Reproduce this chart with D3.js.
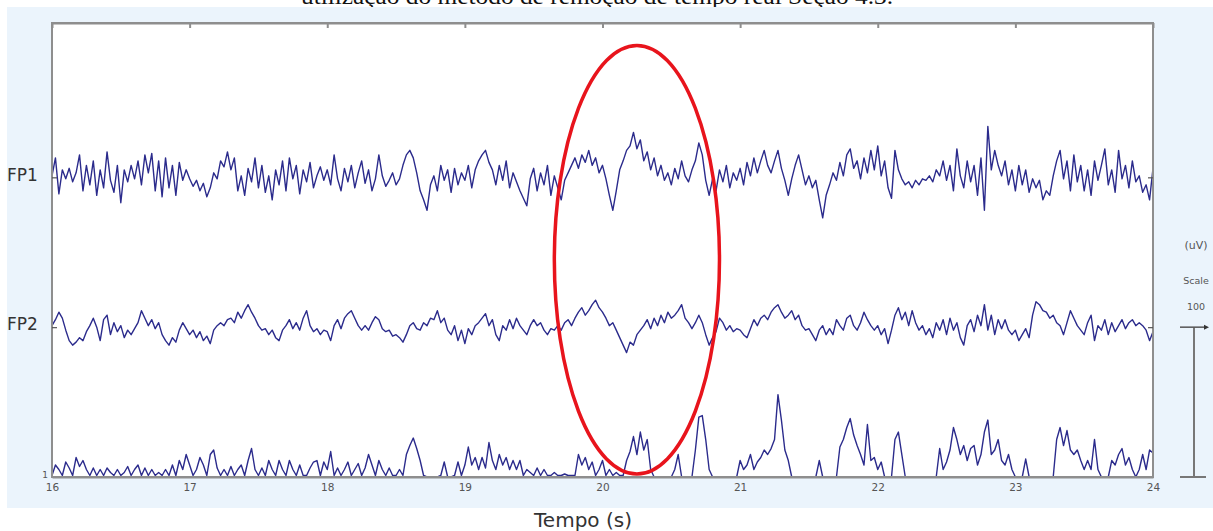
<!DOCTYPE html>
<html>
<head>
<meta charset="utf-8">
<script src="https://cdn.jsdelivr.net/npm/d3@7"></script>
<style>
  body { margin: 0; background: #fff; }
  svg { display: block; }
</style>
</head>
<body>
<svg id="chart" width="1213" height="531"></svg>
<script>
// ---- Data: EEG samples (µV) at 40 Hz from 16 s to 24 s ----
const sampleRate = 40;
const startTime = 16;
const timeTicks = [16, 17, 18, 19, 20, 21, 22, 23, 24];

const fp1 = [
  1, 13, -11, 5, -1, 6, -3, 3, 15, -9, 8, -5, 11, -12, 5, -7, 17, -2, -10, 8,
  -17, 5, -3, 8, -1, 11, -5, 15, 3, 16, -9, 11, -13, 13, -7, 8, -12, 10, -2, 5,
  -1, -6, -2, -9, -4, -13, -7, 3, -1, 11, 7, 17, 5, 13, -9, 1, -12, 6, -3, 13,
  -7, 8, -10, 1, -15, 5, -5, 11, -9, 13, -1, 8, -11, 5, -3, 10, -7, 1, 7, -2,
  5, -5, 15, -1, -9, 6, -3, 8, -7, 3, 11, -4, 5, -9, -1, 15, 1, -6, -2, 3,
  -5, -1, 8, 15, 18, 13, 3, -9, -15, -22, -5, 1, -9, 8, -2, 5, -10, 6, -5, 3,
  -2, 8, -7, 5, 11, 15, 18, 10, 5, -5, 8, -2, 11, -7, 3, -3, -9, -14, -19, -1,
  6, -9, 3, -5, 8, -12, 1, -7, -15, -2, 3, 8, 13, 6, 15, 10, 18, 8, 13, 3,
  8, -1, -12, -22, -9, 5, 11, 18, 21, 30, 19, 25, 11, 17, 5, 13, 1, 8, -2, 3,
  -5, 6, -1, 11, 1, -3, 5, 11, 23, 15, -2, -12, -1, -9, 5, -3, 8, -7, 3, -2,
  6, -5, 10, 1, 13, 3, 11, 18, 8, 3, 11, 18, 6, -2, -12, -1, 8, 15, 5, -5,
  1, -7, -2, -15, -27, -12, -5, 3, -2, 10, 1, 15, 19, 6, 11, -1, 13, 3, 18, 5,
  21, 1, 11, -7, -14, 18, 5, -1, -5, -3, -7, -2, -5, -1, -2, 1, -3, 5, 1, 11,
  -2, 8, -9, 19, 1, -7, 11, -3, 8, -12, 13, -22, 34, 5, 18, 8, 1, 11, -5, 5,
  -9, 8, -5, 5, -10, -1, -7, -2, -15, -9, -12, 1, 11, 18, -1, 11, -9, 15, -3, 8,
  -9, 5, -12, 11, -2, 8, 19, -5, 5, -10, 18, -1, 8, -7, 11, -3, 1, -10, -5, -15, 6
];

const fp2 = [
  1, 5, 10, 6, -2, -9, -12, -10, -7, -9, -3, 1, 6, 0, -9, 5, 8, -5, 3, -3,
  1, -7, -2, -5, -1, 3, 11, 6, 1, 5, -1, 3, -5, -9, -12, -7, -10, -2, 3, -1,
  -5, -2, -7, -3, -9, -6, -11, -2, 1, 3, 1, 5, 6, 3, 10, 6, 11, 15, 10, 6,
  1, -2, -1, -5, -2, -7, -9, -2, 1, 5, -1, 3, -2, 6, 11, 1, -3, -1, -5, -2,
  -3, -9, 1, 5, -1, 6, 9, 11, 6, 1, -2, 1, -2, 3, 7, 5, -1, -3, -2, -6,
  -5, -7, -10, -5, 1, 3, -1, -2, 3, 1, 6, 5, 11, 3, 6, -2, -5, 1, -9, -2,
  -11, -1, -5, 1, 3, 6, 9, 1, 5, -5, -9, 1, -2, 5, -1, 6, 1, -2, -5, 1,
  5, 1, 3, -2, -5, -1, -2, 1, -2, 3, 5, 1, 6, 10, 13, 8, 11, 15, 18, 13,
  10, 6, 1, 3, -2, -7, -12, -17, -10, -12, -5, -2, 1, 5, -1, 6, 1, 8, 3, 10,
  6, 8, 11, 15, 6, 3, -1, 3, 8, 3, -5, -12, -7, -3, 6, 3, -2, 1, -3, -1,
  -2, -5, -7, -1, 5, 1, 6, 8, 5, 10, 13, 15, 10, 6, 8, 11, 5, 8, 1, -2,
  -1, -5, -9, -2, 1, -5, -1, -5, 5, 1, -2, 6, 8, 1, -2, 3, 10, 5, 1, -2,
  1, -5, -1, -11, -2, 8, 13, 5, 10, 1, 11, 3, -2, 1, -5, -1, -7, 3, -2, 5,
  -5, 6, -2, 3, -7, -12, 1, 5, -3, 8, 1, 15, -2, 8, -5, 5, -1, 5, -2, -5,
  -2, -9, -5, -1, -7, 8, 17, 15, 11, 10, 6, 8, 3, 1, -5, 3, 11, 6, 1, -2,
  -5, 3, 8, -9, 1, -2, 5, -5, 3, -3, 1, 5, -1, 3, 5, 1, 3, 1, -2, -9, -3
];

// Artifact-detection trace (non-negative), shown along the time axis
const detection = [
  1, 8, 5, 1, 10, 6, 1, 13, 7, 11, 5, 1, 6, 1, 5, 1, 6, 3, 1, 5,
  1, 3, 7, 1, 5, 8, 1, 6, 1, 5, 1, 3, 1, 5, 1, 8, 1, 11, 5, 15,
  8, 1, 5, 13, 8, 1, 15, 18, 6, 1, 5, 1, 7, 1, 5, 8, 1, 11, 19, 5,
  1, 6, 1, 11, 5, 1, 11, 5, 1, 11, 5, 1, 8, 1, 1, 6, 10, 11, 1, 10,
  5, 17, 1, 6, 1, 5, 10, 1, 5, 9, 1, 6, 15, 8, 1, 11, 5, 1, 6, 1,
  1, 5, 1, 15, 21, 26, 19, 11, 1, 0, 0, 0, 0, 1, 10, 0, 0, 1, 10, 1,
  8, 20, 8, 13, 5, 13, 6, 23, 11, 5, 15, 8, 13, 5, 11, 5, 11, 1, 5, 3,
  1, 6, 1, 5, 1, 1, 3, 1, 1, 2, 1, 1, 1, 15, 8, 13, 5, 10, 1, 5,
  11, 1, 5, 1, 3, 1, 1, 11, 17, 27, 15, 30, 18, 25, 5, 0, 0, 0, 0, 0,
  0, 5, 15, 0, 0, 0, 0, 18, 40, 41, 25, 5, 0, 0, 0, 0, 0, 0, 0, 0,
  11, 5, 8, 15, 5, 10, 13, 18, 15, 19, 25, 55, 38, 18, 11, 0, 0, 0, 0, 0,
  0, 0, 0, 11, 0, 0, 0, 0, 0, 20, 25, 33, 39, 28, 21, 15, 8, 35, 11, 13,
  5, 10, 0, 0, 0, 25, 30, 15, 0, 0, 0, 0, 0, 0, 0, 0, 0, 0, 19, 5,
  10, 18, 33, 25, 15, 21, 11, 19, 21, 8, 15, 30, 38, 15, 18, 25, 11, 8, 15, 5,
  0, 0, 0, 12, 0, 0, 0, 0, 0, 0, 0, 0, 25, 33, 21, 31, 18, 15, 18, 11,
  5, 11, 5, 25, 5, 0, 0, 0, 11, 8, 15, 19, 8, 13, 5, 0, 5, 15, 5, 18, 16
];

const channelNames = ["FP1", "FP2", ""];
const channelOffsets = [200, 100, 0];   // µV offset of each trace baseline
const scaleBarValue = 100;              // µV
const xLabel = "Tempo (s)";
const caption = "utilização do método de remoção de tempo real Seção 4.3.";

// Highlighted interval (time in s, amplitude in µV on the stacked scale)
const highlight = { t: 20.25, v: 145, halfT: 0.6, halfV: 143 };

// ---- Layout ----
const svg = d3.select("#chart");
const W = 1213, H = 531;
const plot = { left: 52, right: 1153, top: 23, bottom: 477 };

const x = d3.scaleLinear().domain([16, 24]).range([plot.left, plot.right]);
const y = d3.scaleLinear().domain([0, 303]).range([plot.bottom, plot.top]);

// caption line running off the top edge of the page
svg.append("text")
  .attr("x", 597).attr("y", 4)
  .attr("text-anchor", "middle")
  .attr("font-family", "'Liberation Serif', 'DejaVu Serif', serif")
  .attr("font-size", 23)
  .attr("textLength", 592)
  .attr("lengthAdjust", "spacingAndGlyphs")
  .attr("fill", "#111")
  .text(caption);

// pale panel behind the viewer
svg.append("rect")
  .attr("x", 7).attr("y", 7)
  .attr("width", W - 7).attr("height", 501)
  .attr("fill", "#ebf4fc");

// plotting area
svg.append("rect")
  .attr("x", plot.left).attr("y", plot.top)
  .attr("width", plot.right - plot.left).attr("height", plot.bottom - plot.top)
  .attr("fill", "#fff");

// ---- Traces ----
const traceColor = "#2b2b8c";
const series = [fp1, fp2, detection];
const gTraces = svg.append("g");
series.forEach((vals, c) => {
  const line = d3.line()
    .x((d, i) => x(startTime + i / sampleRate))
    .y(d => y(channelOffsets[c] + d));
  gTraces.append("path")
    .datum(vals)
    .attr("d", line)
    .attr("fill", "none")
    .attr("stroke", traceColor)
    .attr("stroke-width", 1.4)
    .attr("stroke-linejoin", "round");
});

// ---- Frame and axes ----
const frameColor = "#8e8e8e";
svg.append("rect")
  .attr("x", plot.left).attr("y", plot.top)
  .attr("width", plot.right - plot.left).attr("height", plot.bottom - plot.top)
  .attr("fill", "none")
  .attr("stroke", frameColor)
  .attr("stroke-width", 2);

// top: second marks pointing into the plot
const topAxis = svg.append("g")
  .attr("transform", `translate(0,${plot.top})`)
  .call(d3.axisTop(x).tickValues(timeTicks).tickSizeInner(-5).tickSizeOuter(0).tickFormat(""));
topAxis.selectAll("path,line").attr("stroke", frameColor).attr("stroke-width", 2);

// bottom: time labels
const bottomAxis = svg.append("g")
  .attr("transform", `translate(0,${y(0)})`)
  .call(d3.axisBottom(x).tickValues(timeTicks).tickSize(0).tickPadding(7).tickFormat(d3.format("d")));
bottomAxis.select(".domain").attr("stroke", frameColor).attr("stroke-width", 2);
bottomAxis.selectAll("text")
  .attr("font-family", "'DejaVu Sans', sans-serif")
  .attr("font-size", 10.5)
  .attr("fill", "#555");

// channel baseline marks on both sides
[plot.left, plot.right].forEach((px, side) => {
  const ax = side === 0 ? d3.axisLeft(y).tickSizeInner(-5) : d3.axisRight(y).tickSizeInner(-5);
  const g = svg.append("g")
    .attr("transform", `translate(${px},0)`)
    .call(ax.tickValues(channelOffsets.slice(0, 2)).tickSizeOuter(0).tickFormat(""));
  g.select(".domain").remove();
  g.selectAll("line").attr("stroke", "#555").attr("stroke-width", 1.2);
});

// channel labels
svg.append("g").selectAll("text")
  .data(channelNames.slice(0, 2))
  .join("text")
  .attr("x", 7)
  .attr("y", (d, i) => y(channelOffsets[i]) + (i === 0 ? 4 : 3))
  .attr("font-family", "'DejaVu Sans', sans-serif")
  .attr("font-size", 17)
  .attr("fill", "#333")
  .text(d => d);

svg.append("text")
  .attr("x", 48).attr("y", y(0) + 1)
  .attr("text-anchor", "end")
  .attr("font-family", "'DejaVu Sans', sans-serif")
  .attr("font-size", 9)
  .attr("fill", "#555")
  .text("1");

// x-axis title
svg.append("text")
  .attr("x", 583).attr("y", 527)
  .attr("text-anchor", "middle")
  .attr("font-family", "'DejaVu Sans', sans-serif")
  .attr("font-size", 20)
  .attr("fill", "#333")
  .text(xLabel);

// ---- Amplitude scale bar ----
const sbX = 1194;
const sb = svg.append("g");
sb.append("line")
  .attr("x1", sbX).attr("x2", sbX)
  .attr("y1", y(scaleBarValue)).attr("y2", y(0))
  .attr("stroke", "#777").attr("stroke-width", 2);
sb.append("line")
  .attr("x1", sbX - 14).attr("x2", sbX + 12)
  .attr("y1", y(scaleBarValue)).attr("y2", y(scaleBarValue))
  .attr("stroke", "#555").attr("stroke-width", 1.5);
sb.append("path")
  .attr("d", `M${sbX + 10},${y(scaleBarValue) - 2.5}L${sbX + 15},${y(scaleBarValue)}L${sbX + 10},${y(scaleBarValue) + 2.5}Z`)
  .attr("fill", "#333");
sb.append("line")
  .attr("x1", sbX - 14).attr("x2", sbX + 12)
  .attr("y1", y(0)).attr("y2", y(0))
  .attr("stroke", "#777").attr("stroke-width", 2);
[["(uV)", 249, 11], ["Scale", 284, 9.5], [String(scaleBarValue), 310, 9.5]].forEach(([t, ty, fs]) => {
  sb.append("text")
    .attr("x", sbX + 2).attr("y", ty)
    .attr("text-anchor", "middle")
    .attr("font-family", "'DejaVu Sans', sans-serif")
    .attr("font-size", fs)
    .attr("fill", "#555")
    .text(t);
});

// ---- Highlighted event ----
svg.append("ellipse")
  .attr("cx", x(highlight.t))
  .attr("cy", y(highlight.v))
  .attr("rx", x(highlight.t + highlight.halfT) - x(highlight.t))
  .attr("ry", y(highlight.v - highlight.halfV) - y(highlight.v))
  .attr("fill", "none")
  .attr("stroke", "#e8141c")
  .attr("stroke-width", 3.5);
</script>
</body>
</html>
